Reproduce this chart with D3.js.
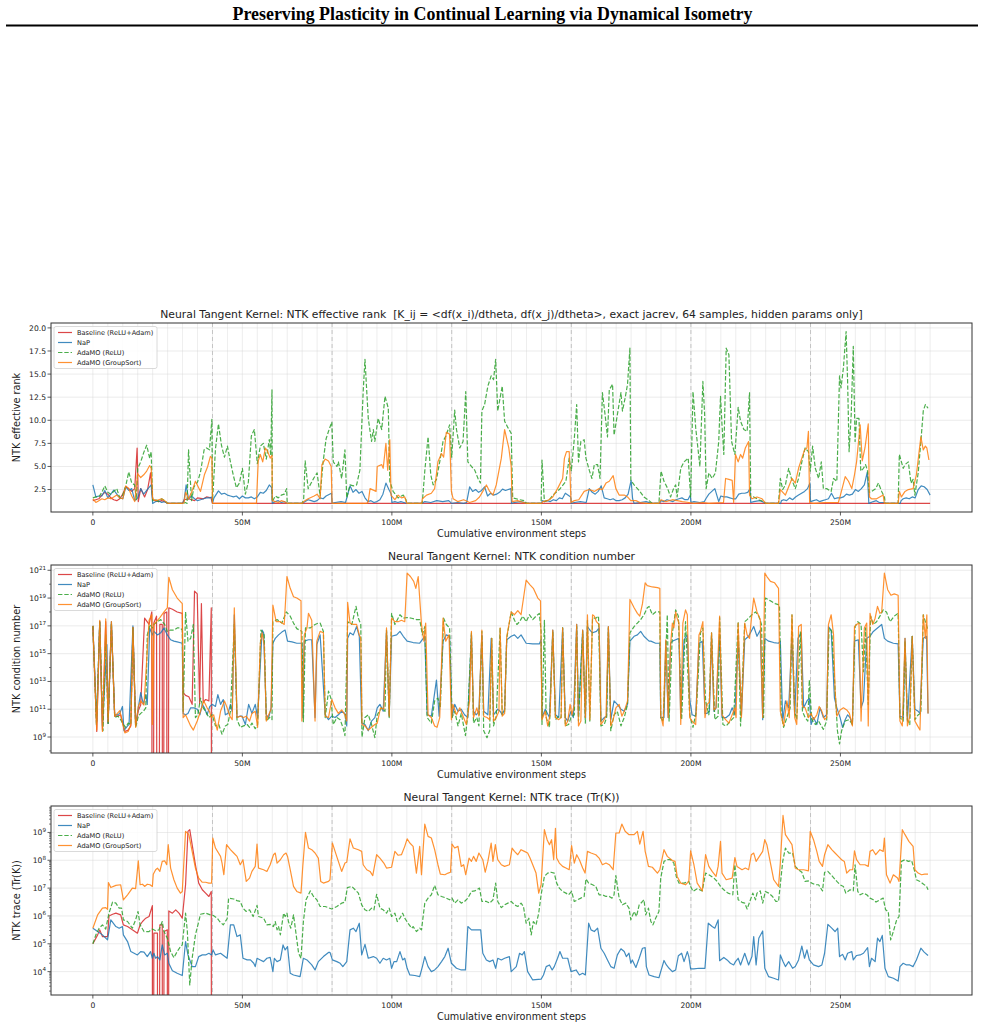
<!DOCTYPE html>
<html lang="en">
<head>
<meta charset="utf-8">
<title>NTK diagnostics</title>
<script src="https://d3js.org/d3.v7.min.js"></script>
<style>
  body { margin: 0; background: #fff; }
  text { font-family: "DejaVu Sans", sans-serif; fill: #222; white-space: pre; }
</style>
</head>
<body>
<svg id="chart" width="985" height="1030"></svg>
<script>
// ---- series meta ----
var seriesNames = ["Baseline (ReLU+Adam)", "NaP", "AdaMO (ReLU)", "AdaMO (GroupSort)"];
var seriesColors = ["#d62728", "#1f77b4", "#2ca02c", "#ff7f0e"];
var seriesDash = [null, null, "4.4,1.9", null];

// x values are cumulative environment steps in millions
var xTicks = [0, 50, 100, 150, 200, 250];
var taskBoundaries = [40, 80, 120, 160, 200, 240];

// ---- panel 1: NTK effective rank ----
var rankTicks = [2.5, 5.0, 7.5, 10.0, 12.5, 15.0, 17.5, 20.0];
var baselineRank = [[0,1.3],[1,1.4],[2,1.5],[3,1.9],[4,2.2],[5,2.0],[6,1.6],[7,1.4],[8,1.3],[9,1.5],[10,2.0],[11,2.8],[12,2.6],[13,2.3],[14,2.6],[14.8,7.0],[15.2,1.2],[16,2.6],[17.3,1.7],[18.3,2.5],[19.3,4.3],[20,1.4],[21,1.3],[22,1.2],[23,1.3],[24,1.2],[25,1.0],[30,1.0],[30.5,1.4],[32,1.5],[34,1.3],[35,1.6],[37,1.5],[38,1.7],[39.5,1.6],[40,1.0],[280,1.0]];
var napRank = [[0,3.0],[1,1.7],[2,1.8],[3,1.8],[4,2.4],[5,1.6],[6,2.0],[7,2.45],[8,2.0],[9,1.6],[10,1.5],[11,2.8],[12,2.4],[13,2.6],[14,1.3],[15,1.6],[16,2.6],[17,2.0],[18,2.4],[19.5,3.0],[20,1.0],[21,1.2],[22,1.3],[23,1.1],[24,1.2],[25,1.0],[30,1.0],[30.5,1.3],[31.2,3.0],[32,1.5],[33,1.8],[34,1.5],[35,1.3],[36,1.4],[37,1.5],[38,1.6],[39,1.6],[39.8,1.7],[40,1.0],[40.5,1.6],[42,2.35],[43,2.0],[44,2.1],[45,1.9],[46,1.8],[47,1.7],[48,1.8],[49,1.5],[50,1.8],[51,1.6],[52,1.6],[53,1.7],[54,1.5],[55,1.7],[56,2.2],[57,2.1],[58,2.4],[59,3.0],[59.8,2.7],[60,1.0],[61,1.2],[62,1.3],[63,1.1],[64,1.2],[65,1.0],[70,1.0],[71,1.2],[72,1.4],[73,1.3],[74,1.2],[75,1.3],[76,1.6],[77,1.5],[78,1.8],[79.8,2.1],[80,1.0],[81,1.1],[83,1.2],[84.5,1.1],[86,2.9],[87,2.2],[88,2.5],[89,2.1],[90,2.3],[91,1.6],[92,1.2],[93,1.3],[94,1.1],[95,1.2],[96,1.4],[97,2.0],[98,3.2],[99,2.5],[99.8,2.0],[100,1.1],[101,1.2],[102,1.1],[103,1.2],[104,1.1],[105,1.0],[110,1.0],[111,1.2],[113,1.1],[115,1.3],[117,1.2],[119,1.3],[120,1.0],[122,1.1],[124,1.0],[125,1.1],[126,2.8],[127,2.3],[128,2.5],[129,2.2],[130,2.4],[131,2.8],[132,1.8],[133,2.1],[134,1.9],[135,2.0],[136,2.2],[137,2.55],[138,2.4],[139.8,2.6],[140,1.0],[141,1.1],[143,1.2],[144.5,1.1],[145,1.0],[150,1.0],[150.3,1.3],[151,1.2],[152,1.3],[153,1.2],[154,1.4],[155,1.3],[156,1.6],[157,1.5],[158,2.1],[159.8,1.7],[160,1.0],[161,1.1],[163,1.2],[165,1.1],[166,2.6],[167,2.2],[168,2.0],[169,2.3],[170,2.9],[171,1.6],[172,1.5],[173,1.4],[174,1.5],[175,1.3],[176,1.3],[177,1.4],[178,1.6],[179,2.0],[180,3.5],[180.5,1.5],[181,1.0],[183,1.1],[185,1.2],[187,1.0],[189.5,1.0],[190,1.3],[191,1.2],[192,1.4],[193,1.3],[194,1.2],[195,1.4],[196,1.5],[197,1.6],[198,1.4],[199,1.4],[199.8,1.9],[200,1.1],[201,1.2],[203,1.1],[204.5,1.2],[205,1.5],[206,2.0],[207,2.3],[208,2.6],[209.3,1.2],[210,1.8],[211,1.7],[212,1.7],[213,1.6],[214,1.5],[215,1.5],[216,2.0],[217,2.1],[218,2.1],[219,2.2],[219.8,2.6],[220,1.1],[221,1.2],[223,1.3],[224.5,1.1],[225,1.0],[230,1.0],[230.3,1.3],[231,1.4],[232,1.3],[233,1.6],[234,1.4],[235,1.7],[236,1.9],[237,2.1],[238,2.3],[239,2.6],[239.8,3.2],[240,1.2],[241,1.3],[242,1.4],[243,1.2],[244,1.3],[245,1.4],[246,1.5],[247,2.1],[248,1.5],[249,1.6],[250,1.6],[251,1.7],[252,2.0],[253,1.9],[254,2.0],[255,2.5],[256,2.3],[257,2.6],[258,3.0],[259,4.4],[259.5,1.0],[261,1.2],[262,1.3],[263,1.1],[264.5,1.1],[265,1.0],[270,1.0],[270.3,1.3],[271,1.5],[272,1.6],[273,1.5],[274,1.7],[275,1.6],[276,2.5],[277,2.9],[278,2.8],[279,2.5],[280,1.9]];
var reluRank = [[0,1.6],[1,1.7],[2,1.7],[3,2.2],[4,2.9],[5,2.2],[6,2.0],[7,2.3],[8,2.6],[9,1.6],[10,1.9],[11,2.9],[12,4.4],[13,3.2],[14,3.0],[14.5,1.4],[15,4.8],[16,5.5],[17,6.5],[18,7.3],[19,5.9],[19.5,6.6],[20,1.3],[21,1.4],[22,1.2],[23,1.5],[24,1.3],[25,1.0],[30,1.0],[31,1.1],[31.5,1.0],[32,6.8],[33,1.3],[33.8,2.8],[35,3.3],[36,4.4],[37.2,6.8],[38,7.0],[39,6.8],[39.8,10.1],[40,1.2],[41,6.9],[42,9.6],[43,7.3],[44,6.0],[45,7.2],[46,5.5],[47,4.0],[48,2.7],[49,3.2],[50,4.8],[51,2.0],[52,3.3],[53,8.3],[54,9.0],[55,5.3],[56,7.2],[57,7.5],[58,5.8],[59,7.9],[59.5,6.2],[59.9,13.3],[60,1.2],[61,1.8],[62,1.6],[63,1.9],[64,2.0],[64.8,2.6],[65,1.0],[70,1.0],[70.5,1.5],[71,5.6],[72,2.6],[73,3.2],[74,3.8],[75,4.3],[76,1.8],[77,5.5],[78,8.0],[79,9.0],[79.9,9.8],[80.4,5.5],[81.6,5.0],[82.1,5.5],[83.2,3.7],[84.3,6.8],[84.9,1.6],[86,3.0],[87.1,2.9],[88.2,3.0],[89.3,4.6],[90.4,13.1],[91,16.6],[92.1,10.2],[93.2,7.7],[93.8,9.0],[94.3,7.7],[95.4,10.2],[96.6,9.0],[97.1,10.7],[97.7,12.6],[98.8,11.3],[99.3,3.4],[100.4,2.3],[102.1,1.6],[103.8,1.9],[104.7,1.4],[105,1.0],[110,1.0],[110.2,1.2],[111,4.5],[112.1,8.2],[113,4.1],[113.8,3.0],[114.9,3.6],[116,5.5],[117.1,7.7],[118.2,8.4],[119.3,9.5],[120,6.0],[121,11.1],[121.6,9.0],[122.7,7.0],[123.8,7.7],[124.7,13.1],[125.4,5.5],[126.6,5.0],[127.7,4.6],[128.8,3.7],[129.6,3.2],[130.1,11.0],[131,11.7],[132.1,13.7],[133.2,14.8],[134,14.4],[134.7,16.6],[135.4,11.0],[136.9,13.7],[137.7,9.9],[138.8,9.2],[139.9,8.6],[140.4,1.6],[142.7,1.4],[144.3,1.3],[145,1.0],[149.9,1.0],[150.2,5.7],[151,1.2],[152.7,1.4],[153.8,1.9],[156,2.5],[158.2,3.4],[159.3,5.9],[160,4.5],[161,8.0],[161.8,11.7],[162.4,5.5],[163.2,7.7],[164.3,7.9],[164.9,5.9],[166,4.6],[166.9,3.7],[167.7,5.2],[168.8,5.2],[169.6,3.7],[170.4,13.0],[171.3,10.6],[172.1,8.2],[172.7,13.3],[173.8,13.9],[174.3,8.4],[175.4,10.6],[176.6,13.0],[177.1,11.0],[178,12.4],[178.8,13.9],[179.6,17.8],[179.9,3.5],[181,3.0],[182.7,2.4],[184.3,1.7],[186,1.3],[187.1,1.0],[189.3,1.0],[190,4.5],[191,3.4],[192.1,2.7],[193.2,1.7],[194.3,2.7],[194.9,3.0],[195.4,1.7],[196.6,4.8],[197.7,5.5],[199.1,5.9],[199.9,1.7],[200.7,13.1],[201.6,9.2],[203,5.0],[204,14.2],[204.6,10.6],[205.1,2.6],[206,4.3],[207.1,3.7],[208.2,4.3],[209.3,7.7],[209.9,12.6],[210.4,9.5],[211,6.3],[211.8,17.8],[212.7,17.1],[213.6,7.7],[214.7,6.3],[215.8,11.4],[216.6,9.9],[217.7,9.0],[218.8,8.8],[219.6,13.0],[220,1.7],[221,1.7],[222.7,1.4],[224.3,1.2],[225,1.0],[229.3,1.0],[229.9,3.7],[230.7,2.5],[231.6,3.0],[232.7,4.8],[233.6,3.7],[234.9,2.6],[236,3.7],[237.1,5.5],[238.2,7.0],[239.3,6.6],[239.9,4.5],[240.7,7.2],[241.6,4.8],[242.7,3.7],[243.6,5.5],[244.3,2.6],[245.4,2.6],[246.9,2.3],[247.7,3.7],[248.8,3.4],[249.7,14.8],[250.2,13.5],[251,15.7],[251.9,19.6],[252.4,14.2],[252.9,6.6],[253.6,10.6],[254.3,18.0],[254.9,7.7],[255.4,10.2],[256.2,10.2],[256.8,4.5],[257.7,4.8],[258.4,5.2],[259.1,4.5],[259.6,2.2],[260.4,2.3],[261.8,2.6],[262.7,3.2],[263.8,2.3],[264.7,1.7],[265,1.0],[269.3,1.0],[269.7,6.3],[270.4,5.5],[271,4.8],[271.6,5.2],[272.7,5.5],[273.6,3.2],[274.3,3.6],[274.9,1.9],[276,4.3],[276.9,7.7],[277.7,11.0],[278.4,11.7],[279.3,11.3]];
var gsRank = [[0,1.5],[1,1.1],[2,1.3],[3,1.5],[4,1.4],[5,1.6],[6,1.5],[7,1.7],[8,1.9],[9,1.6],[10,1.5],[11,2.9],[12,2.6],[13,1.8],[14,1.2],[15,4.2],[16,3.8],[17,4.1],[18,4.5],[19,5.1],[19.5,4.8],[20,1.5],[21,1.3],[22,1.4],[23,1.5],[24,1.3],[25,1.0],[30,1.0],[30.5,1.1],[31,2.2],[32,1.5],[33,2.2],[34.3,3.4],[36,2.3],[37.3,4.1],[38.4,5.0],[39.3,6.1],[39.8,5.9],[40,1.0],[54.7,1.0],[55.3,5.6],[56,6.3],[56.8,5.5],[57.7,7.0],[58.5,6.6],[59.3,5.9],[59.9,6.2],[60,1.3],[61,1.2],[62,1.1],[63,1.3],[64,1.2],[65,1.0],[70,1.0],[70.5,1.2],[72,1.5],[74,1.8],[75,2.0],[76,1.5],[76.6,5.2],[77.7,5.8],[78.8,5.6],[79.7,5.0],[80,1.0],[91.6,1.0],[92.1,1.2],[92.7,2.6],[94.7,2.3],[95.1,5.0],[96.6,5.2],[97.1,4.8],[98,7.5],[98.6,4.6],[99.3,7.9],[99.7,1.9],[100.2,1.7],[101,1.4],[102.1,1.9],[103.2,1.6],[104.3,1.7],[105,1.0],[110,1.0],[110.2,1.5],[111.6,1.9],[113.2,2.1],[114.3,2.6],[115.4,5.5],[116.6,6.4],[117.3,6.0],[118.2,8.7],[119.3,8.5],[119.9,2.3],[120.5,1.5],[122,1.2],[124,1.4],[126,1.1],[128,1.3],[129.3,1.7],[130.4,2.3],[131.6,3.0],[132.7,2.3],[133.8,1.9],[134.9,3.0],[136.6,5.9],[137.7,9.0],[139.1,7.0],[139.9,5.0],[140.2,1.2],[142,1.3],[144,1.1],[145,1.0],[150,1.0],[150.5,1.2],[152,1.3],[153.8,1.7],[155.4,2.6],[157.1,3.7],[157.7,5.9],[158.4,6.6],[159.3,6.6],[159.9,1.1],[161,1.3],[162.5,1.4],[164.3,2.3],[166,2.5],[167.7,2.3],[169.3,2.6],[170.4,2.5],[171.6,3.2],[172.7,3.4],[174,4.0],[174.9,2.6],[176,1.9],[177.7,1.9],[178.8,1.7],[179.9,1.3],[181.6,1.3],[183,1.1],[185,1.0],[189.3,1.0],[190,1.4],[191.6,1.2],[193.8,1.4],[197.1,1.2],[199.3,1.1],[201,1.0],[204,1.1],[206,1.0],[210.9,1.1],[211.6,3.7],[212.7,3.6],[213.8,3.5],[214.3,1.1],[214.9,6.3],[215.8,5.5],[216.6,6.3],[217.3,5.9],[218.2,7.0],[219.3,7.7],[219.6,1.9],[220.4,1.5],[222.1,1.7],[223.8,1.5],[225,1.0],[229.3,1.0],[229.9,2.5],[231.6,1.9],[232.7,2.8],[233.8,3.7],[234.9,3.2],[236,4.8],[237.1,5.9],[238,6.8],[238.8,7.0],[239.3,8.8],[239.7,1.1],[241,1.0],[245,1.1],[249.3,1.1],[250,1.9],[251.6,3.9],[252.7,3.4],[253.8,2.6],[254.7,4.1],[255.4,5.5],[256.6,9.5],[257.3,5.6],[258.2,7.0],[259.3,9.6],[259.7,1.7],[260.4,1.5],[262.1,1.5],[264.3,1.9],[264.7,1.0],[269.3,1.0],[269.7,2.3],[270.4,1.7],[271.6,2.3],[272.7,2.5],[274.3,2.6],[275.4,4.1],[276.9,8.2],[277.7,6.8],[278.4,7.2],[278.9,7.0],[279.6,5.7]];

// ---- panel 2: NTK condition number, stored as log10 exponents (null = non-positive value) ----
var condMajorExp = [9, 11, 13, 15, 17, 19, 21];
var condMinorExp = [8, 10, 12, 14, 16, 18, 20];
var baselineCondExp = [[0,17.0],[1.3,9.4],[2.3,17.3],[3.2,9.5],[4.3,17.3],[5.1,10.0],[6.2,17.1],[7.3,10.5],[8.2,10.5],[9.3,10.6],[10.7,9.4],[11.8,9.5],[12.7,9.8],[13.4,16.9],[14.3,9.8],[15.2,10.9],[16.0,11.3],[17.3,17.55],[18.8,17.1],[19.7,18.0],[20.0,null],[20.4,17.2],[21.3,17.7],[21.6,null],[22.4,17.1],[23.2,17.1],[23.4,null],[23.8,17.9],[24.7,18.0],[24.9,null],[25.4,18.3],[26.6,18.2],[28.2,18.0],[29.9,17.9],[30.2,12.2],[31.0,12.0],[32.1,11.9],[33.2,11.35],[34.0,19.5],[34.9,19.3],[35.7,11.4],[36.3,18.6],[36.9,11.5],[37.7,11.7],[38.8,11.6],[39.6,18.3],[39.8,null]];
var napCondExp = [[0,17.0],[1.3,10.15],[2.3,17.3],[3.2,9.8],[4.7,15.65],[5.1,10.0],[6.2,17.3],[7.3,10.6],[8.2,10.6],[9.0,10.7],[9.9,11.2],[10.4,9.45],[11.6,9.8],[12.1,9.9],[13.4,17.0],[14.3,9.9],[15.2,11.1],[16.0,12.2],[16.9,11.35],[17.7,12.05],[18.2,11.35],[19.0,16.85],[19.9,16.35],[20.4,16.6],[21.6,16.35],[22.7,16.5],[23.8,16.85],[24.9,16.35],[26.0,16.0],[27.1,15.9],[28.2,15.85],[29.9,15.75],[30.2,10.7],[31.0,10.6],[31.8,10.7],[32.7,11.1],[33.8,11.1],[34.9,11.0],[35.8,10.6],[36.6,11.35],[37.3,11.1],[38.2,10.6],[39.1,11.2],[39.9,11.35],[41.0,11.2],[41.8,12.05],[42.7,11.35],[43.6,11.7],[44.3,10.6],[45.2,10.7],[46.0,11.35],[46.6,10.85],[47.3,17.8],[48.2,10.4],[49.1,10.5],[49.9,10.5],[51.0,9.9],[52.1,11.35],[53.2,10.7],[54.3,11.35],[55.1,10.4],[56.6,16.7],[57.1,16.5],[58.0,10.6],[58.8,10.4],[59.6,11.1],[60.2,15.75],[61.0,16.1],[62.1,16.35],[63.2,16.55],[64.3,16.7],[65.1,15.9],[66.6,15.85],[68.2,15.75],[69.9,15.75],[70.2,10.4],[70.7,15.9],[72.1,16.0],[73.2,16.0],[74.3,10.4],[74.9,15.65],[76,16.35],[77.7,10.6],[78.8,10.25],[79.9,10.5],[81,10.4],[82.1,10.6],[83.2,10.85],[84.3,10.7],[84.9,9.8],[85.2,16.1],[86,16.5],[87.1,16.35],[88.2,16.95],[89.1,16.25],[89.9,10.0],[91,9.9],[92.1,9.45],[93.2,10.15],[94.3,10.4],[95.1,11.1],[96,11.35],[97.1,10.85],[98.2,16.6],[99.1,10.5],[99.9,16.25],[101.6,16.35],[102.7,16.6],[103.8,16.25],[105.1,15.9],[107.1,15.8],[109.3,15.75],[111,16.25],[111.8,10.6],[113.2,10.5],[114.9,13.1],[115.8,10.5],[117.1,15.9],[118.2,16.35],[119.3,16.25],[120.1,10.4],[121,11.35],[122.1,10.85],[123.2,11.0],[124.3,10.6],[125.4,10.4],[126.6,16.35],[127.3,10.85],[128.2,10.6],[129.1,10.85],[130.1,16.35],[130.7,10.85],[132.1,10.6],[133.2,16.1],[134,10.6],[135.4,11.0],[136.2,10.85],[136.9,10.6],[137.7,11.0],[138.4,16.0],[139.9,16.25],[141,16.35],[142.1,16.1],[143.2,16.35],[144.9,15.75],[147.1,15.7],[149.3,15.7],[149.9,16.0],[150.2,10.4],[151.3,11.0],[152.7,10.4],[153.8,16.7],[154.7,10.6],[155.8,10.4],[157.1,16.85],[158,10.4],[158.8,10.15],[159.9,10.85],[160.7,10.4],[161.8,17.1],[162.4,10.5],[163.8,16.7],[164.7,10.4],[165.4,16.95],[166.2,16.7],[167.1,16.5],[168.4,16.6],[169.3,16.85],[169.9,10.15],[171,10.4],[171.8,10.5],[172.4,16.95],[173.2,10.25],[174.3,11.6],[175.4,11.35],[176.6,11.0],[177.7,10.85],[178.8,11.35],[179.6,15.9],[181,16.25],[182.1,16.35],[183.2,16.6],[184.3,16.25],[186,15.9],[186.6,15.9],[188.2,15.75],[189.6,15.75],[189.9,10.4],[191,10.4],[191.6,15.9],[192.4,10.4],[193.2,15.75],[193.8,15.9],[194.9,16.0],[196,16.1],[196.6,10.4],[197.7,16.0],[198.8,16.35],[199.6,11.7],[200.4,10.6],[201.6,10.5],[202.7,15.75],[203.8,15.9],[204.7,10.7],[205.4,10.7],[206.2,10.85],[206.9,16.25],[207.7,10.85],[208.4,11.1],[209.6,16.35],[210.4,10.4],[211.8,10.4],[212.9,10.6],[213.8,11.1],[214.7,10.6],[215.8,16.1],[216.9,10.6],[218,16.0],[219.3,16.25],[221,16.95],[222.1,16.25],[223.2,16.7],[224,10.25],[224.7,16.1],[226,15.9],[227.7,15.8],[229.3,15.75],[229.9,15.9],[230.7,10.15],[231.6,11.6],[232.7,11.1],[233.8,16.25],[234.7,10.6],[235.8,16.1],[236.9,16.5],[237.7,11.1],[238.8,11.6],[239.6,11.8],[240.2,9.9],[241,10.4],[242.1,9.9],[243.2,11.1],[244.3,10.4],[245.4,10.6],[246,16.95],[246.9,16.7],[248,11.8],[248.8,11.1],[249.9,10.4],[250.7,9.7],[251.6,10.25],[252.4,10.6],[253.2,10.4],[254,9.9],[254.7,15.9],[256,16.0],[256.9,11.1],[257.7,11.6],[258.8,16.1],[259.9,16.25],[261,16.6],[262.4,16.85],[263.8,17.1],[264.7,16.1],[265.8,15.9],[267.7,15.75],[269.3,15.7],[269.9,10.5],[271,10.4],[271.6,16.1],[272.4,10.15],[274,16.25],[274.9,11.0],[276,10.85],[276.6,10.7],[277.7,16.1],[278.8,16.25],[279.3,10.7]];
var reluCondExp = [[0,17.0],[1.2,9.9],[2.3,17.3],[3.4,9.45],[4.3,16.35],[5.1,9.9],[6.2,17.2],[7.3,10.4],[8.4,10.5],[9.3,10.25],[10.2,9.9],[11.0,9.7],[11.8,10.0],[12.7,9.9],[13.4,16.85],[14.3,9.7],[15.2,10.5],[16.0,10.7],[16.9,10.85],[17.7,11.1],[18.2,16.35],[19.1,17.1],[19.9,16.85],[20.4,17.1],[21.6,17.3],[22.7,17.45],[24.0,17.1],[24.9,16.6],[26.0,16.7],[27.1,16.7],[28.2,16.85],[29.3,16.85],[29.9,16.7],[30.2,10.85],[31.0,18.0],[31.8,15.9],[32.7,16.1],[33.6,17.1],[34.3,10.4],[35.1,10.6],[36.0,11.8],[36.9,11.1],[37.7,10.85],[38.8,10.4],[39.9,10.6],[41.0,9.8],[42.1,9.9],[43.2,9.2],[44.3,9.8],[45.1,9.9],[46.0,10.85],[47.3,17.1],[48.2,10.25],[49.3,9.7],[50.4,9.8],[51.6,9.9],[52.4,9.7],[53.2,10.0],[54.3,9.6],[55.1,9.9],[56.2,16.7],[57.3,16.35],[58.0,10.15],[59.1,10.4],[59.9,10.25],[60.2,17.3],[61.6,17.45],[63.2,17.2],[64.7,18.0],[66.0,17.7],[67.1,17.2],[68.2,16.8],[69.9,16.6],[70.4,10.1],[71.1,16.85],[72.7,16.85],[74.3,17.1],[75.4,17.2],[76.0,17.2],[77.1,16.6],[77.7,10.4],[78.8,12.3],[79.6,11.8],[80.4,9.9],[81.6,10.4],[82.7,10.25],[83.6,9.7],[84.3,9.1],[85.2,17.3],[86.6,17.1],[88,18.4],[88.8,17.55],[89.6,17.1],[90,9.0],[91,10.4],[92.1,10.6],[93.2,9.9],[94.3,8.95],[95.1,10.6],[96.6,11.1],[97.7,10.85],[98.2,16.7],[99.1,10.4],[99.9,17.9],[101,17.1],[102.7,17.8],[103.8,17.55],[105.1,17.6],[106.6,17.55],[108.2,17.45],[109.3,17.45],[110.2,16.35],[111,16.95],[111.8,10.4],[113.2,10.0],[114.3,11.6],[115.4,11.8],[116.2,11.1],[117.3,17.55],[118.2,17.1],[119.3,16.85],[120.1,10.4],[121,10.85],[122.1,9.8],[123.2,10.7],[124.6,9.1],[125.4,10.6],[126.6,16.5],[127.3,10.0],[128.4,10.4],[129.1,9.8],[130.1,16.6],[130.7,9.45],[131.8,8.95],[132.7,9.45],[133.4,16.1],[134,9.8],[134.9,10.5],[136.2,16.85],[136.9,10.6],[137.7,10.85],[138.4,16.1],[139.9,18.0],[141,17.4],[141.8,17.1],[142.7,17.3],[143.8,17.7],[144.9,17.3],[146,17.8],[147.1,17.45],[148.2,17.7],[149.3,17.9],[149.9,16.6],[150.2,9.9],[151,17.4],[151.6,10.4],[152.7,9.7],[153.8,16.6],[154.7,10.25],[155.8,10.5],[156.6,10.4],[157.1,16.85],[158,9.8],[159.1,9.9],[159.9,10.4],[161,10.6],[161.8,16.95],[162.4,10.15],[163.8,16.6],[164.7,10.0],[165.4,17.4],[166.2,10.15],[167.1,17.55],[168.2,17.55],[169.1,17.7],[169.9,9.8],[171,9.9],[171.8,10.4],[172.4,16.85],[173.2,9.45],[174.3,10.6],[175.4,10.85],[176.6,9.8],[177.7,10.4],[178.8,11.35],[179.6,16.5],[181,16.95],[182.1,17.2],[183.2,17.45],[184.3,17.8],[185.4,18.3],[186,18.4],[187.1,17.8],[188.2,18.0],[189.6,18.0],[189.9,10.4],[190.7,10.1],[192.1,17.8],[192.7,10.15],[193.8,16.5],[194.9,18.15],[195.8,17.7],[196.9,10.25],[198.2,17.3],[199.6,10.6],[200.7,9.7],[201.8,10.85],[203.2,16.5],[204,16.85],[204.9,11.6],[206,10.6],[206.9,16.5],[208,10.25],[209.1,10.5],[209.6,17.6],[210.7,9.9],[211.8,9.8],[213.2,10.15],[214.3,10.4],[215.8,17.3],[216.6,9.8],[218,17.3],[218.8,17.45],[220.4,17.8],[221.6,18.0],[222.7,17.7],[223.6,17.1],[224.3,10.4],[224.9,19.0],[226.6,18.8],[228.2,18.6],[229.6,18.5],[230.2,10.6],[231,9.7],[232.1,10.4],[233.2,11.1],[233.8,17.8],[234.7,10.85],[235.4,10.25],[236.6,16.6],[237.3,10.85],[238.2,10.4],[239.1,10.15],[239.6,13.1],[240.4,10.25],[241.6,9.9],[242.7,10.15],[243.6,9.8],[244.3,9.55],[245.4,10.15],[246.2,16.85],[247.1,16.6],[248.2,12.5],[249,9.45],[249.7,8.5],[250.4,9.45],[251.6,10.15],[252.9,10.25],[254,9.9],[254.9,16.95],[255.8,17.3],[256.9,17.1],[257.7,13.7],[258.4,16.85],[259.3,11.35],[260.1,17.7],[261,17.1],[262.1,17.3],[263.2,17.7],[264.3,18.15],[265.4,18.0],[266.6,17.3],[268,17.7],[269.3,17.9],[269.9,10.4],[271,10.15],[271.6,15.9],[272.4,10.25],[273.2,9.9],[274,16.25],[274.9,10.25],[276,10.6],[276.9,10.7],[277.7,17.8],[278.4,17.3],[279.3,16.7]];
var gsCondExp = [[0,17.0],[1.3,9.5],[2.3,17.4],[3.2,9.4],[4.3,17.5],[5.1,10.1],[6.2,17.3],[7.3,10.5],[8.2,10.7],[9.0,10.9],[9.9,10.0],[10.7,9.3],[11.8,9.4],[12.7,9.9],[13.4,16.9],[14.3,9.7],[15.2,11.2],[16.0,11.6],[17.1,11.3],[18.8,17.4],[19.7,17.8],[19.9,9.9],[20.4,17.1],[21.6,17.4],[22.4,17.6],[23.8,18.0],[24.9,18.3],[25.4,20.5],[26.6,19.6],[28.2,19.0],[29.9,18.6],[30.2,10.4],[31.0,10.6],[32.7,9.8],[33.6,9.5],[34.9,10.15],[36.0,10.85],[37.1,11.6],[38.2,11.1],[39.0,10.85],[39.6,10.4],[40.4,10.6],[41.6,9.5],[42.7,10.85],[44.0,11.6],[44.9,11.1],[45.8,10.5],[46.6,10.25],[47.3,18.3],[48.2,10.4],[49.3,10.5],[50.4,10.4],[51.3,10.5],[52.4,10.15],[53.2,10.7],[54.3,10.85],[55.1,9.7],[56.0,15.75],[56.6,16.5],[57.3,15.65],[58.0,10.15],[58.8,10.6],[59.6,11.0],[60.2,18.5],[61.3,17.3],[62.7,17.3],[64.0,17.1],[64.9,20.55],[66.0,19.7],[67.1,19.1],[68.2,19.0],[69.6,18.8],[69.9,10.15],[70.7,16.35],[71.6,16.85],[72.1,17.9],[73.2,17.4],[74.3,10.15],[74.9,15.9],[76.0,16.6],[77.1,16.5],[77.7,10.5],[78.8,10.4],[79.9,11.7],[81,11.1],[82.1,10.7],[83.2,10.95],[84.3,10.6],[84.9,10.15],[85.2,18.7],[86,17.2],[87.1,17.1],[88.2,17.1],[89.1,16.35],[89.6,16.1],[90,9.9],[91,9.8],[92.1,9.5],[93.2,9.7],[94.3,9.9],[95.1,10.0],[96.2,11.1],[97.3,11.0],[98.2,16.85],[99.1,10.5],[99.9,17.55],[101,17.3],[102.1,17.3],[103.2,17.4],[104.3,17.3],[105.1,20.8],[106.2,20.55],[107.3,20.2],[108,19.7],[108.8,20.55],[109.9,17.1],[110.7,15.9],[111.3,17.2],[112.1,10.6],[113.2,10.4],[114.3,9.8],[115.1,9.7],[116,10.4],[117.1,17.55],[118,15.9],[119.1,16.35],[119.9,10.25],[120.4,11.35],[121.6,10.6],[122.7,11.1],[123.8,10.5],[124.9,9.9],[126,11.6],[126.6,16.6],[127.3,10.4],[128.4,11.1],[129.1,10.5],[130.1,16.7],[130.7,10.5],[131.8,10.4],[132.7,10.25],[133.4,16.1],[134,10.15],[134.9,10.4],[135.8,10.85],[136.2,16.85],[136.9,10.5],[137.7,10.7],[138.4,16.2],[139.9,18.0],[141,17.8],[142.1,18.1],[143.2,17.8],[144.9,20.3],[146.2,19.95],[147.3,19.7],[148.8,19.0],[149.7,18.8],[150.2,10.25],[151.3,10.85],[152.1,9.8],[152.9,10.6],[153.8,16.7],[154.7,10.4],[155.8,10.25],[156.6,10.4],[157.1,16.85],[158,9.8],[158.8,10.15],[159.6,11.35],[160.2,10.6],[161,11.35],[161.8,17.1],[162.4,9.8],[163.2,10.15],[163.8,16.7],[164.7,10.4],[165.4,17.8],[166.2,10.25],[167.1,17.8],[167.7,17.7],[168.4,17.3],[169.3,17.1],[169.9,9.9],[170.7,10.15],[171.6,10.5],[172.4,16.95],[173.2,9.8],[174,10.25],[174.9,11.1],[176,11.35],[176.9,10.5],[177.7,10.85],[178.8,11.6],[179.6,18.9],[181,18.3],[182.1,17.9],[182.9,17.7],[183.8,18.6],[184.7,20.1],[185.4,19.9],[187.1,19.8],[188.8,19.75],[189.6,19.7],[189.9,10.6],[190.7,9.8],[191.6,16.0],[192.4,10.4],[193.2,15.65],[193.8,17.2],[194.3,16.85],[194.9,18.0],[195.4,17.55],[196,17.2],[196.6,9.9],[197.3,17.2],[198.2,18.15],[198.8,17.8],[199.6,10.4],[200.4,10.15],[201,10.0],[201.6,9.9],[202.7,16.35],[203.2,16.6],[204,17.3],[204.7,10.4],[205.4,11.35],[206.2,11.5],[206.9,16.5],[207.7,10.95],[208.4,11.1],[209.6,17.7],[210.4,10.6],[211.6,10.25],[212.7,10.0],[213.8,10.6],[214.7,11.1],[215.1,10.4],[215.8,17.2],[216.9,10.4],[218,17.2],[218.8,16.35],[219.6,16.1],[220.2,17.45],[221,19.0],[222.1,18.0],[223.2,17.45],[224,10.4],[224.7,20.8],[225.4,20.55],[226.6,20.2],[228,20.1],[229.3,19.7],[229.9,10.85],[231,9.8],[232.1,11.6],[232.9,10.4],[233.8,17.8],[234.7,10.4],[235.4,9.9],[236,16.95],[236.9,17.1],[237.3,11.2],[238.2,11.1],[239.3,10.4],[240.2,10.7],[241,10.25],[242.1,10.6],[242.9,11.2],[243.8,10.85],[244.7,10.25],[245.4,10.4],[246,17.1],[246.9,17.8],[247.7,16.35],[248.2,12.4],[248.8,10.5],[249.9,10.95],[251,11.1],[252.1,10.95],[253,10.7],[254,9.8],[254.7,16.95],[255.4,17.1],[256.2,17.2],[256.9,10.15],[258,16.85],[258.8,17.2],[259.3,9.8],[259.9,17.9],[260.8,17.1],[261.6,17.55],[262.4,18.4],[263.2,17.9],[263.8,18.0],[264.7,20.8],[265.8,19.6],[266.9,19.2],[268,19.3],[269.3,19.2],[269.9,10.15],[270.7,9.8],[271.6,16.1],[272.4,9.8],[273.2,10.5],[274,16.25],[274.9,10.15],[275.8,9.8],[276.6,9.5],[277.7,17.8],[278.4,16.1],[278.9,17.8],[279.3,10.7]];

// ---- panel 3: NTK trace, stored as log10 exponents (null = non-positive value) ----
var traceMajorExp = [4, 5, 6, 7, 8, 9];
var baselineTraceExp = [[0,5.0],[1.6,5.32],[2.3,5.5],[3.2,5.26],[4.9,5.26],[5.4,6.0],[6.6,6.06],[7.7,6.1],[9.3,6.04],[10.2,5.68],[11.6,5.62],[13.2,5.5],[14.9,5.38],[15.8,5.68],[16.6,5.8],[17.7,5.92],[18.8,5.98],[19.9,6.37],[20.0,null],[20.4,5.38],[21.6,5.38],[21.7,null],[22.4,5.68],[23.2,5.68],[23.4,null],[23.8,5.44],[24.9,5.5],[25.0,null],[25.4,6.18],[26.6,6.1],[27.7,6.22],[28.8,6.1],[29.9,5.92],[31.0,7.12],[31.8,9.04],[32.4,9.1],[33.2,8.56],[34.3,7.84],[35.4,7.18],[36.6,6.94],[37.7,6.82],[38.8,6.7],[39.6,6.88],[39.8,null]];
var napTraceExp = [[0,5.56],[1.6,5.44],[3.2,5.32],[4.9,5.14],[6.0,5.86],[7.7,5.62],[8.8,5.56],[9.9,5.62],[10.2,5.32],[11.6,5.08],[12.7,4.72],[13.8,4.66],[14.9,4.6],[16.0,4.72],[17.1,4.7],[18.2,4.54],[19.3,4.72],[19.9,4.48],[20.4,4.66],[21.0,4.48],[21.6,4.54],[22.4,4.42],[23.2,4.96],[24.0,4.6],[24.9,4.66],[25.4,4.3],[26.6,4.03],[28.2,3.94],[29.9,3.86],[31.0,5.08],[31.8,4.6],[33.2,4.18],[34.3,4.18],[35.4,4.54],[36.6,4.6],[37.7,4.6],[38.8,4.66],[39.7,4.6],[40.2,4.78],[41.0,4.6],[42.7,4.66],[43.8,4.57],[44.9,4.48],[46.0,5.68],[47.1,5.68],[48.2,5.26],[49.3,5.32],[50.2,4.48],[51.6,4.42],[52.7,4.42],[53.8,4.3],[54.3,4.18],[54.9,4.48],[56.0,4.42],[57.1,4.36],[58.2,4.48],[59.3,4.51],[60.2,4.0],[60.7,4.48],[61.6,4.36],[62.7,4.42],[63.6,4.96],[64.3,4.78],[65.1,4.9],[66.0,3.94],[67.1,3.88],[69.3,3.82],[70.4,4.48],[71.6,4.42],[73.2,4.24],[74.3,4.06],[75.4,4.36],[77.1,4.54],[78.8,4.69],[79.3,4.69],[80.1,4.42],[81.6,4.36],[82.7,4.3],[83.6,4.18],[84.9,4.36],[86,5.5],[87.1,5.56],[88,5.44],[89.1,5.74],[89.9,4.6],[91,4.98],[92.1,4.48],[93.8,4.54],[94.9,4.48],[96,4.3],[97.1,4.48],[98.2,4.42],[99.3,4.48],[99.9,4.12],[100.7,4.36],[101.6,4.36],[102.7,4.72],[103.6,4.42],[104.3,4.48],[105.1,4.12],[106,3.88],[107.7,3.86],[109.3,3.82],[110.2,4.18],[111,4.54],[112.1,4.18],[113.2,4.0],[114.3,4.06],[115.4,4.18],[116.6,4.36],[117.7,4.54],[118.8,4.84],[119.9,4.3],[121.6,4.12],[123.2,4.06],[124.6,4.06],[125.4,5.62],[126.6,5.5],[128.2,5.5],[129.7,5.5],[130.4,4.66],[131.6,4.42],[132.7,4.36],[133.8,4.42],[134.7,4.12],[135.4,4.48],[136.6,4.42],[137.7,4.48],[139.3,4.54],[139.9,4.0],[141.6,4.18],[142.7,4.66],[143.6,4.6],[144.3,4.72],[145.4,4.0],[147.1,3.7],[149.9,3.73],[150.7,3.88],[151.6,4.18],[152.7,4.24],[153.6,4.06],[154.3,4.18],[155.4,4.48],[156.2,4.72],[157.1,4.48],[158.8,4.48],[159.9,4.0],[161.6,4.06],[162.7,3.88],[163.8,3.94],[164.7,3.88],[165.8,5.74],[166.6,5.5],[167.7,5.44],[168.8,5.56],[169.9,4.84],[171,4.66],[172.1,4.42],[173.2,4.18],[174.3,4.12],[175.4,4.6],[176.6,4.82],[177.7,4.72],[178.4,4.54],[179.3,4.66],[179.9,4.3],[180.4,4.42],[181.6,4.15],[182.7,4.48],[183.8,4.84],[184.7,4.86],[185.1,4.18],[186,3.88],[187.7,3.82],[189.3,3.78],[189.9,4.0],[191,4.4],[191.8,4.24],[192.7,4.12],[193.8,4.0],[194.9,4.06],[195.8,4.57],[196.9,4.66],[197.7,4.36],[198.8,4.72],[199.3,4.54],[199.9,4.1],[201,4.1],[202.7,4.12],[204.7,4.12],[205.8,5.74],[207.1,5.62],[208,5.56],[209.1,5.86],[209.6,4.39],[211,4.51],[212.1,4.42],[213.2,4.3],[214.3,4.24],[214.9,4.36],[215.8,4.48],[216.6,4.24],[218,4.66],[219.3,4.24],[220.4,4.54],[221,5.26],[221.8,4.24],[222.7,5.2],[224,5.46],[224.7,4.12],[226,3.82],[227.7,3.76],[229.3,3.7],[229.9,4.6],[230.8,4.36],[231.6,4.18],[232.7,4.36],[234,4.12],[234.9,4.18],[236,4.42],[237.1,4.92],[238,4.48],[238.8,4.78],[239.6,4.42],[241,4.24],[242.7,4.18],[243.8,4.24],[244.7,4.66],[245.8,5.7],[247.1,5.56],[248.2,5.44],[249.1,5.56],[249.7,4.54],[250.7,4.62],[251.6,4.42],[252.4,4.66],[253.8,4.72],[254.3,4.42],[255.4,4.58],[256.6,4.6],[257.7,4.66],[259.1,4.86],[259.7,4.18],[260.4,4.48],[261.6,4.36],[262.4,5.2],[263.2,5.08],[264,5.3],[264.9,4.12],[266,3.82],[267.7,3.76],[269.3,3.66],[269.9,4.18],[271,4.3],[272.1,4.24],[273.2,4.24],[274.3,4.18],[275.4,4.42],[276.9,4.84],[278,4.7],[279.3,4.58]];
var reluTraceExp = [[0,5.0],[1.0,5.32],[2.1,5.56],[3.2,5.68],[4.3,5.53],[5.4,6.1],[6.6,6.5],[7.7,6.46],[8.8,6.28],[9.6,6.28],[10.2,5.86],[11.6,5.8],[13.2,5.56],[14.3,5.86],[15.1,6.16],[15.8,5.68],[17.1,5.44],[18.8,5.44],[19.9,5.53],[21.0,5.47],[22.1,5.5],[23.2,5.8],[23.8,5.44],[24.9,5.2],[26.0,4.72],[27.1,4.5],[28.2,4.72],[29.3,4.9],[29.9,4.96],[31.0,6.1],[31.6,5.44],[32.4,3.52],[33.2,4.48],[34.3,5.32],[36.0,6.06],[37.7,6.1],[39.3,6.04],[40.4,6.01],[41.6,5.92],[42.4,5.8],[43.6,5.68],[44.9,5.9],[45.4,6.64],[47.1,6.61],[48.2,6.55],[49.3,6.52],[50.2,6.28],[51.3,6.16],[52.4,6.22],[53.6,5.98],[54.9,6.38],[55.4,5.98],[57.1,5.92],[58.2,5.68],[59.3,5.7],[60.4,5.62],[61.0,5.8],[61.6,5.5],[62.1,5.62],[62.7,5.32],[63.8,6.1],[64.3,5.98],[64.9,6.1],[65.4,5.8],[66.2,5.56],[67.1,6.04],[67.7,5.56],[68.8,4.66],[69.6,4.48],[70.4,5.8],[71.3,6.58],[72.7,6.9],[73.8,6.7],[74.9,6.58],[76.0,6.34],[77.7,6.34],[79.9,6.25],[81.6,6.34],[83.2,6.46],[84.3,6.5],[85.1,7.02],[86.6,7.06],[87.7,6.94],[88.8,6.82],[89.9,6.4],[91,6.22],[92.1,6.16],[93.2,6.28],[94,6.22],[94.9,6.78],[96,6.28],[97.1,6.22],[98.2,6.1],[99.1,6.28],[99.9,5.98],[101,6.1],[101.8,5.8],[102.7,5.92],[103.6,6.1],[104.3,5.92],[105.4,5.74],[106.6,5.56],[107.1,5.62],[108.2,5.44],[109.3,5.56],[109.9,5.5],[111,6.46],[112.1,6.64],[113.2,6.76],[114.3,7.1],[115.4,6.76],[116.6,6.7],[118.2,6.64],[119.3,6.58],[120.1,6.64],[121,6.46],[122.1,6.58],[123.2,6.46],[124.3,6.52],[125.4,6.64],[126.6,6.88],[127.7,6.9],[129.3,7.0],[130.1,6.52],[131.6,6.52],[132.7,6.46],[133.8,6.58],[134.7,7.18],[135.4,6.52],[136.6,6.3],[137.7,6.4],[138.8,6.46],[139.9,6.52],[141,6.4],[142.1,6.34],[143.2,6.46],[144,6.34],[144.9,5.74],[145.8,5.92],[146.6,5.32],[147.3,5.8],[148.2,5.68],[149.1,6.1],[149.9,6.76],[151,7.42],[152.1,7.54],[153.2,7.57],[154.3,7.54],[155.1,7.18],[156,7.0],[157.1,6.88],[158.2,6.82],[159.1,6.76],[160.1,6.88],[161,6.52],[162.1,6.58],[163.2,6.64],[164.3,6.7],[164.9,7.33],[165.8,7.18],[167.1,7.12],[168.2,7.06],[169.3,6.76],[170.4,6.76],[171.6,6.7],[172.7,6.7],[173.6,6.64],[174.3,6.76],[174.9,7.45],[176,6.64],[177.1,6.4],[178.2,6.46],[179.3,6.28],[179.9,5.86],[181,6.16],[181.8,5.98],[182.7,6.4],[183.8,6.52],[184.3,6.58],[184.9,6.04],[185.8,6.28],[186.6,5.8],[187.3,5.68],[188.2,5.92],[189.3,6.16],[189.9,7.36],[191,7.96],[192.1,8.02],[193.2,8.02],[194.3,7.9],[195.1,7.42],[196,7.18],[197.7,7.18],[199.3,7.24],[199.9,7.06],[200.7,6.88],[202.1,6.98],[203.8,6.9],[204.9,7.54],[206,7.48],[207.7,7.36],[208.8,7.24],[209.9,7.06],[211,6.94],[212.4,6.82],[214,6.76],[214.7,7.84],[215.8,6.58],[217.1,6.49],[218,6.46],[218.8,6.25],[219.9,6.58],[220.7,6.82],[221.6,6.58],[222.1,6.82],[223.2,6.9],[224,6.46],[224.9,6.88],[226,6.82],[227.3,6.7],[228.4,6.52],[229.3,6.52],[230.7,7.96],[231.6,8.44],[232.7,8.26],[234,8.26],[234.9,7.78],[236,7.66],[237.1,7.57],[238.2,7.24],[239.3,7.26],[240.4,7.18],[241.6,7.12],[242.7,7.12],[244,6.9],[244.7,7.57],[245.8,7.6],[247.1,7.45],[248.8,7.24],[249.9,7.12],[251,7.06],[251.8,6.82],[253.2,6.94],[254.3,6.9],[254.9,7.84],[255.8,6.88],[256.6,6.76],[257.7,6.82],[258.8,6.76],[259.9,6.64],[261,6.58],[261.9,6.5],[263.2,6.58],[264.3,6.64],[265.1,6.22],[266,6.16],[266.8,5.14],[267.7,5.44],[268.8,5.86],[269.6,5.98],[270.4,7.96],[271.6,8.02],[272.7,7.96],[273.8,7.99],[274.7,7.66],[275.4,7.3],[276.6,7.24],[277.7,7.15],[278.8,7.06],[279.3,6.94]];
var gsTraceExp = [[0,5.56],[1.6,6.04],[3.2,6.28],[4.3,6.3],[4.9,6.24],[5.2,7.2],[6.0,7.02],[7.7,7.1],[9.3,7.12],[10.2,6.58],[11.6,6.76],[13.2,7.0],[14.3,6.98],[15.2,7.98],[15.8,7.12],[16.6,7.14],[17.3,7.06],[18.2,7.14],[19.1,7.12],[19.9,7.06],[20.2,7.5],[21.0,7.66],[21.6,7.72],[22.4,7.6],[23.2,7.96],[24.0,7.98],[24.7,7.84],[25.2,8.56],[26.0,7.72],[27.1,7.3],[28.2,7.0],[29.3,6.82],[29.9,6.88],[31.0,9.04],[32.1,8.92],[33.2,8.32],[34.3,7.72],[35.4,7.36],[36.6,7.21],[37.7,7.21],[38.8,7.18],[39.7,7.18],[40.1,8.8],[41.0,8.44],[42.7,8.14],[43.2,7.9],[43.8,7.48],[44.7,8.56],[46.0,8.38],[47.1,8.26],[48.2,8.14],[49.3,7.84],[50.2,8.02],[51.3,7.24],[52.4,7.36],[53.2,7.6],[54.3,7.78],[54.9,8.58],[55.4,7.72],[57.1,7.66],[58.2,7.6],[59.3,7.84],[60.4,8.2],[61.0,8.26],[61.6,7.9],[62.7,8.02],[63.8,8.2],[64.6,8.26],[65.1,8.14],[66.0,7.66],[67.1,7.06],[68.2,6.88],[69.6,6.82],[70.2,7.78],[71.1,9.0],[72.1,8.44],[73.2,8.38],[74.3,8.26],[75.4,8.08],[76.2,7.24],[77.1,7.18],[78.8,7.24],[79.3,7.3],[80.1,8.62],[81,8.32],[82.1,7.96],[83.2,7.6],[84.3,7.9],[84.9,7.93],[86,8.77],[87.1,8.44],[88.8,8.38],[89.9,8.32],[90.4,7.84],[91.6,7.66],[92.7,7.6],[93.6,7.45],[94.9,8.2],[96,8.08],[97.3,7.9],[98.2,7.72],[99.9,7.75],[101,8.32],[102.1,8.18],[103.2,8.2],[104.3,8.5],[105.1,8.77],[106,8.62],[107.1,8.5],[108.2,7.54],[109.3,8.5],[109.9,7.48],[111,9.3],[112.1,8.86],[113.2,8.8],[114.3,8.38],[115.4,7.84],[116.2,7.5],[117.7,7.48],[118.8,7.54],[119.6,7.57],[120.1,8.58],[121,8.44],[122.1,8.5],[123.2,7.78],[124,7.84],[124.7,7.48],[125.8,8.08],[126.6,7.96],[127.3,8.14],[128.2,7.96],[129.1,8.26],[130.4,8.02],[131.2,7.57],[132.1,7.96],[133.2,8.62],[133.8,7.96],[134.6,8.56],[135.4,8.02],[136.6,7.84],[137.7,7.78],[139.3,7.84],[140.2,8.44],[141,8.32],[142.1,8.2],[143.2,8.38],[144.3,8.32],[145.4,8.26],[146.2,8.08],[147.1,7.84],[148.2,7.54],[149.1,6.82],[149.9,7.12],[151,9.1],[151.9,8.74],[152.7,8.56],[153.4,8.74],[154.1,8.02],[154.7,9.15],[155.1,8.08],[156,7.9],[157.1,7.78],[158.2,7.72],[159.3,7.66],[160.1,8.53],[161,7.9],[161.8,8.2],[162.7,8.02],[163.8,7.72],[164.6,7.54],[165.4,8.32],[166.6,8.26],[168.2,8.2],[169.3,8.08],[170.4,7.84],[171.6,7.9],[172.7,7.84],[174,7.66],[174.9,8.98],[176,8.98],[176.9,9.3],[178,9.04],[179.3,8.92],[181,8.92],[182.1,9.04],[182.9,8.58],[184,9.04],[184.7,8.32],[185.1,8.14],[185.8,7.78],[187.1,7.75],[188.8,7.54],[189.6,7.66],[191,8.38],[192.1,8.14],[193.8,7.99],[194.7,7.96],[195.4,7.42],[196.6,7.18],[198.2,7.12],[199.3,7.24],[199.9,8.34],[201,7.84],[202.1,7.18],[203.8,6.9],[204.9,8.2],[206,7.78],[207.1,7.6],[208.4,7.42],[209.1,7.78],[209.9,8.68],[210.4,7.54],[211.8,7.3],[213.8,7.36],[214.7,8.1],[215.4,7.78],[217.1,7.66],[218.2,7.72],[219.3,7.66],[220.2,8.2],[221,8.26],[221.8,7.96],[222.9,8.14],[224,8.32],[224.7,8.74],[225.4,8.56],[226.6,7.9],[227.7,7.3],[229.3,7.06],[229.9,7.9],[230.8,9.61],[231.6,8.92],[232.7,8.74],[233.8,8.56],[234.9,7.72],[236,7.66],[237.7,7.66],[239.3,7.62],[239.9,9.04],[241,8.74],[242.1,8.32],[242.9,7.96],[244,7.78],[244.7,8.2],[245.8,8.56],[247.1,8.38],[248.2,8.26],[249.3,8.14],[250.4,8.02],[251.3,7.96],[252.1,7.54],[253.2,7.66],[254.1,7.66],[254.7,8.34],[255.4,8.02],[256.6,7.84],[258.2,7.84],[259.3,7.78],[259.9,8.32],[260.8,8.38],[261.8,8.2],[263.2,8.38],[264.3,8.32],[264.7,8.8],[265.4,7.48],[266.6,7.18],[267.7,7.48],[269.1,7.36],[269.6,7.24],[270.7,9.1],[271.6,8.92],[272.9,8.68],[274.3,8.5],[274.9,7.66],[276,7.54],[277.1,7.48],[278.2,7.5],[279.3,7.5]];

// ---- layout ----
var W = 985;
var plotLeft = 51, plotRight = 972;
var svg = d3.select("#chart");

svg.append("text")
    .attr("x", W / 2).attr("y", 20)
    .attr("text-anchor", "middle")
    .attr("textLength", 520).attr("lengthAdjust", "spacingAndGlyphs")
    .style("font-family", "'Liberation Serif', 'Times New Roman', serif")
    .style("font-weight", "bold").style("font-size", "19px").style("fill", "#000")
    .text("Preserving Plasticity in Continual Learning via Dynamical Isometry");
svg.append("line")
    .attr("x1", 6).attr("x2", 978).attr("y1", 25.5).attr("y2", 25.5)
    .attr("stroke", "#000").attr("stroke-width", 2);

var x = d3.scaleLinear().domain([-14, 294]).range([plotLeft, plotRight]);

var panels = [
  { top: 323, bottom: 512, log: false,
    title: "Neural Tangent Kernel: NTK effective rank  [K_ij = <df(x_i)/dtheta, df(x_j)/dtheta>, exact jacrev, 64 samples, hidden params only]",
    ylabel: "NTK effective rank",
    domain: [0.07, 20.53],
    series: [baselineRank, napRank, reluRank, gsRank] },
  { top: 565, bottom: 753, log: true,
    title: "Neural Tangent Kernel: NTK condition number",
    ylabel: "NTK condition number",
    domain: [Math.pow(10, 7.85), Math.pow(10, 21.38)],
    major: condMajorExp, minorExp: condMinorExp, subMinor: false,
    series: [baselineCondExp, napCondExp, reluCondExp, gsCondExp] },
  { top: 806, bottom: 995, log: true,
    title: "Neural Tangent Kernel: NTK trace (Tr(K))",
    ylabel: "NTK trace (Tr(K))",
    domain: [Math.pow(10, 3.16), Math.pow(10, 9.95)],
    major: traceMajorExp, minorExp: [], subMinor: true,
    series: [baselineTraceExp, napTraceExp, reluTraceExp, gsTraceExp] }
];

panels.forEach(function(p, pi) {
  var g = svg.append("g");
  var y = (p.log ? d3.scaleLog() : d3.scaleLinear()).domain(p.domain).range([p.bottom, p.top]);
  var yOf = function(v) {
    if (!p.log) return y(v);
    if (v === null) return p.bottom + 600;  // non-positive value: falls off the log axis
    return y(Math.pow(10, v));
  };

  var clipId = "clip" + pi;
  svg.append("clipPath").attr("id", clipId).append("rect")
      .attr("x", plotLeft).attr("y", p.top)
      .attr("width", plotRight - plotLeft).attr("height", p.bottom - p.top);

  // faint grid: every 5M plus major ticks
  var fine = d3.range(0, 281, 5);
  g.selectAll(".vg").data(fine).enter().append("line")
      .attr("x1", function(d) { return x(d); }).attr("x2", function(d) { return x(d); })
      .attr("y1", p.top).attr("y2", p.bottom)
      .attr("stroke", "#d8d8d8").attr("stroke-width", 0.8).attr("opacity", 0.55);

  var yMajorVals = p.log ? p.major.map(function(e) { return Math.pow(10, e); }) : rankTicks;
  g.selectAll(".hg").data(yMajorVals).enter().append("line")
      .attr("x1", plotLeft).attr("x2", plotRight)
      .attr("y1", function(d) { return y(d); }).attr("y2", function(d) { return y(d); })
      .attr("stroke", "#d8d8d8").attr("stroke-width", 0.8).attr("opacity", 0.6);

  // task boundaries
  g.selectAll(".tb").data(taskBoundaries).enter().append("line")
      .attr("x1", function(d) { return x(d); }).attr("x2", function(d) { return x(d); })
      .attr("y1", p.top).attr("y2", p.bottom)
      .attr("stroke", "#c4c4c4").attr("stroke-width", 1).attr("stroke-dasharray", "4,3");

  // series
  var line = d3.line().x(function(d) { return x(d[0]); }).y(function(d) { return yOf(d[1]); });
  var lg = g.append("g").attr("clip-path", "url(#" + clipId + ")");
  p.series.forEach(function(s, si) {
    lg.append("path")
        .attr("d", line(s))
        .attr("fill", "none")
        .attr("stroke", seriesColors[si])
        .attr("stroke-width", 1.2)
        .attr("stroke-opacity", 0.85)
        .attr("stroke-linejoin", "round")
        .attr("stroke-dasharray", seriesDash[si]);
  });

  // frame
  g.append("rect")
      .attr("x", plotLeft).attr("y", p.top)
      .attr("width", plotRight - plotLeft).attr("height", p.bottom - p.top)
      .attr("fill", "none").attr("stroke", "#333").attr("stroke-width", 1);

  // x axis
  g.selectAll(".xt").data(xTicks).enter().append("line")
      .attr("x1", function(d) { return x(d); }).attr("x2", function(d) { return x(d); })
      .attr("y1", p.bottom).attr("y2", p.bottom + 3.5)
      .attr("stroke", "#333").attr("stroke-width", 0.8);
  g.selectAll(".xl").data(xTicks).enter().append("text")
      .attr("x", function(d) { return x(d); }).attr("y", p.bottom + 13)
      .attr("text-anchor", "middle").style("font-size", "7.6px")
      .text(function(d) { return d === 0 ? "0" : d + "M"; });
  g.append("text")
      .attr("x", (plotLeft + plotRight) / 2).attr("y", p.bottom + 25)
      .attr("text-anchor", "middle").style("font-size", "9.7px")
      .text("Cumulative environment steps");

  // y axis
  g.selectAll(".yt").data(yMajorVals).enter().append("line")
      .attr("x1", plotLeft - 3.5).attr("x2", plotLeft)
      .attr("y1", function(d) { return y(d); }).attr("y2", function(d) { return y(d); })
      .attr("stroke", "#333").attr("stroke-width", 0.8);
  if (p.log) {
    var minorVals = p.minorExp.map(function(e) { return Math.pow(10, e); });
    if (p.subMinor) {
      var lo = Math.floor(Math.log10(p.domain[0])), hi = Math.ceil(Math.log10(p.domain[1]));
      d3.range(lo, hi).forEach(function(e) {
        d3.range(2, 10).forEach(function(k) { minorVals.push(k * Math.pow(10, e)); });
      });
    }
    minorVals = minorVals.filter(function(v) { return v >= p.domain[0] && v <= p.domain[1]; });
    g.selectAll(".ym").data(minorVals).enter().append("line")
        .attr("x1", plotLeft - 2).attr("x2", plotLeft)
        .attr("y1", function(d) { return y(d); }).attr("y2", function(d) { return y(d); })
        .attr("stroke", "#333").attr("stroke-width", 0.6);
    var lab = g.selectAll(".yl").data(p.major).enter().append("text")
        .attr("x", plotLeft - 5).attr("y", function(e) { return y(Math.pow(10, e)) + 3; })
        .attr("text-anchor", "end").style("font-size", "7.6px");
    lab.append("tspan").text("10");
    lab.append("tspan").attr("dy", -3.5).style("font-size", "5.6px").text(function(e) { return e; });
  } else {
    g.selectAll(".yl").data(rankTicks).enter().append("text")
        .attr("x", plotLeft - 5).attr("y", function(d) { return y(d) + 2.7; })
        .attr("text-anchor", "end").style("font-size", "7.6px")
        .text(function(d) { return d3.format(".1f")(d); });
  }
  var midY = (p.top + p.bottom) / 2;
  g.append("text")
      .attr("transform", "translate(20," + midY + ") rotate(-90)")
      .attr("text-anchor", "middle").style("font-size", "9.7px")
      .text(p.ylabel);

  // panel title
  g.append("text")
      .attr("x", (plotLeft + plotRight) / 2).attr("y", p.top - 5.5)
      .attr("text-anchor", "middle").style("font-size", "10.8px")
      .text(p.title);

  // legend
  var lgX = 54, lgY = p.top + 3.5;
  var leg = g.append("g");
  leg.append("rect")
      .attr("x", lgX).attr("y", lgY).attr("width", 103).attr("height", 42)
      .attr("rx", 2).attr("fill", "#fff").attr("fill-opacity", 0.85)
      .attr("stroke", "#d0d0d0").attr("stroke-width", 0.8);
  seriesNames.forEach(function(name, si) {
    var ry = lgY + 6 + si * 10;
    leg.append("line")
        .attr("x1", lgX + 4).attr("x2", lgX + 18).attr("y1", ry).attr("y2", ry)
        .attr("stroke", seriesColors[si]).attr("stroke-width", 1.2).attr("stroke-opacity", 0.85)
        .attr("stroke-dasharray", seriesDash[si]);
    leg.append("text")
        .attr("x", lgX + 23).attr("y", ry + 2.3)
        .style("font-size", "6.6px")
        .text(name);
  });
});
</script>
</body>
</html>
